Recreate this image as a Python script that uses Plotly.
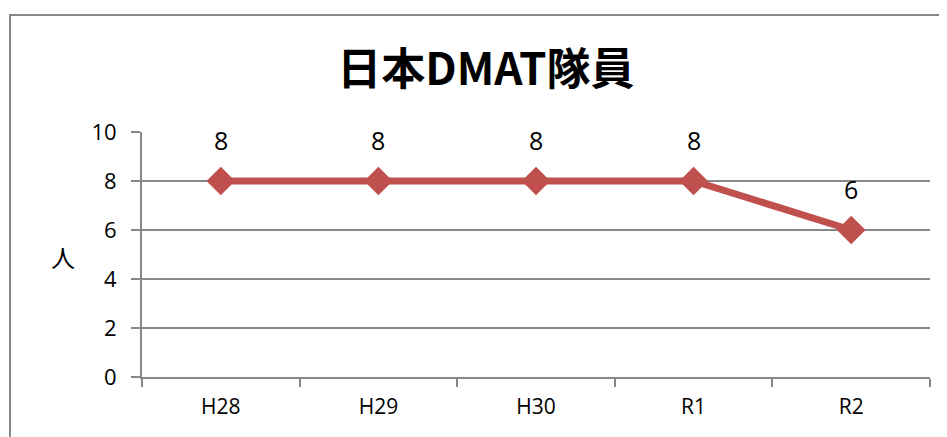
import plotly.graph_objects as go

categories = ["H28", "H29", "H30", "R1", "R2"]
members = [8, 8, 8, 8, 6]
y_ticks = [0, 2, 4, 6, 8, 10]

OFF = 8  # page body margin
W, H = 947 - OFF, 437 - OFF
# target pixel positions in the window
PL, PR, PT, PB = 142, 930, 132, 377
L, R, T, B = PL - OFF, W - (PR - OFF), PT - OFF, H - (PB - OFF)
pw, ph = W - L - R, H - T - B

def px_x(p):
    return (p - OFF - L) / pw

def px_y(p):
    return (H - B - (p - OFF)) / ph

fig = go.Figure()
fig.add_trace(go.Scatter(
    x=categories, y=members,
    mode="lines+markers",
    line=dict(color="#C0504D", width=7),
    marker=dict(symbol="diamond", size=22, color="#C0504D"),
    cliponaxis=False,
    showlegend=False,
))
for c, v in zip(categories, members):
    fig.add_annotation(x=c, y=v, text=str(v), showarrow=False, yshift=41,
                       xanchor="center", yanchor="middle",
                       font=dict(family="Open Sans, sans-serif", size=25, color="#000"))

fig.update_layout(
    width=W, height=H,
    margin=dict(l=L, r=R, t=T, b=B),
    paper_bgcolor="white", plot_bgcolor="white",
    title=dict(text="<b>日本DMAT隊員</b>", xref="container", x=(486 - OFF) / W, xanchor="center",
               yref="container", y=1 - (70 - OFF) / H, yanchor="middle",
               font=dict(family="Noto Sans CJK JP, sans-serif", size=44, color="#000")),
    font=dict(family="Open Sans, sans-serif", color="#000"),
)
fig.update_xaxes(
    type="category", range=[-0.5, 4.5],
    showline=True, linecolor="#888", linewidth=2,
    ticks="outside", tickson="boundaries", ticklen=8, tickcolor="#888", tickwidth=2,
    ticklabelstandoff=10,
    showgrid=False, tickfont=dict(size=21, color="#000"),
)
fig.update_yaxes(
    range=[0, 10], tickvals=y_ticks,
    showline=True, linecolor="#888", linewidth=2,
    ticks="outside", ticklen=9, tickcolor="#888", tickwidth=2,
    ticklabelstandoff=10,
    showgrid=True, gridcolor="#888", gridwidth=1.5, zeroline=False,
    tickfont=dict(size=22, color="#000"),
)
fig.add_annotation(text="人", xref="paper", yref="paper", x=px_x(63), y=px_y(256),
                   xanchor="center", yanchor="middle",
                   showarrow=False, font=dict(family="Noto Sans CJK JP, sans-serif", size=24, color="#000"))
fig.add_shape(type="rect", xref="paper", yref="paper",
              x0=px_x(10), x1=px_x(960), y0=px_y(460), y1=px_y(15),
              line=dict(color="#888", width=2), fillcolor="rgba(0,0,0,0)", layer="below")

fig.write_html("out.html")
